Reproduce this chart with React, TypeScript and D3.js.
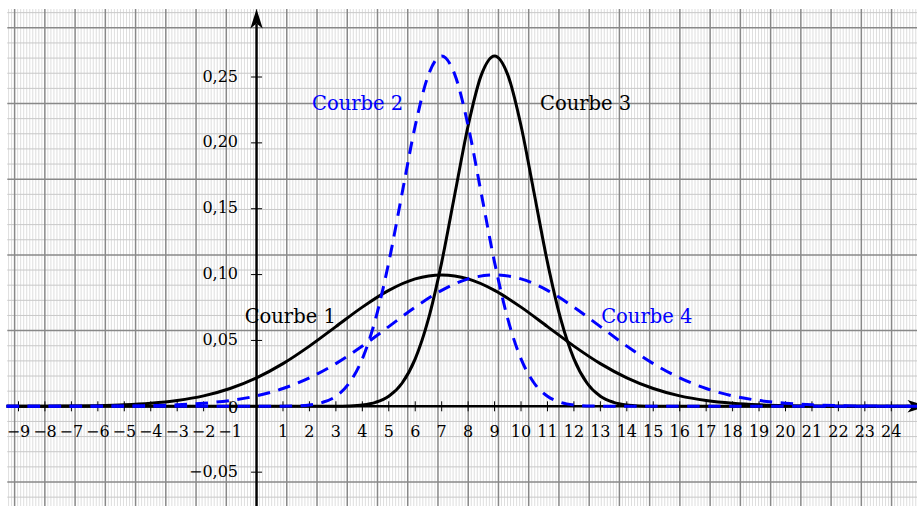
import React from "react";
import * as d3 from "d3";

// Sample points of the four density curves
const wideX = [-9.45, -9, -8, -7, -6, -5, -4, -3, -2, -1, 0, 1, 2, 3, 4, 5, 6, 7, 8, 9, 10, 11, 12, 13, 14, 15, 16, 17, 18, 19, 20, 21, 22, 23, 24, 25];
const courbe1Y = [0, 0, 0.0001, 0.0002, 0.0005, 0.0011, 0.0023, 0.0044, 0.0079, 0.0135, 0.0216, 0.0324, 0.0457, 0.0605, 0.0753, 0.088, 0.0967, 0.0997, 0.0967, 0.088, 0.0753, 0.0605, 0.0457, 0.0324, 0.0216, 0.0135, 0.0079, 0.0044, 0.0023, 0.0011, 0.0005, 0.0002, 0.0001, 0, 0, 0];
const courbe4Y = [0, 0, 0, 0, 0.0001, 0.0002, 0.0005, 0.0011, 0.0023, 0.0044, 0.0079, 0.0135, 0.0216, 0.0324, 0.0457, 0.0605, 0.0753, 0.088, 0.0967, 0.0997, 0.0967, 0.088, 0.0753, 0.0605, 0.0457, 0.0324, 0.0216, 0.0135, 0.0079, 0.0044, 0.0023, 0.0011, 0.0005, 0.0002, 0.0001, 0];

const courbe2X = [-9.45, 1, 1.5, 2, 2.5, 3, 3.5, 4, 4.5, 5, 5.5, 6, 6.5, 7, 7.5, 8, 8.5, 9, 9.5, 10, 10.5, 11, 11.5, 12, 12.5, 13, 25];
const courbe3X = [-9.45, 3, 3.5, 4, 4.5, 5, 5.5, 6, 6.5, 7, 7.5, 8, 8.5, 9, 9.5, 10, 10.5, 11, 11.5, 12, 12.5, 13, 13.5, 14, 14.5, 15, 25];
const narrowY = [0, 0.0001, 0.0003, 0.001, 0.003, 0.0076, 0.0175, 0.036, 0.0663, 0.1093, 0.1613, 0.213, 0.2516, 0.266, 0.2516, 0.213, 0.1613, 0.1093, 0.0663, 0.036, 0.0175, 0.0076, 0.003, 0.001, 0.0003, 0.0001, 0];

const xTicks = [-9, -8, -7, -6, -5, -4, -3, -2, -1, 1, 2, 3, 4, 5, 6, 7, 8, 9, 10, 11, 12, 13, 14, 15, 16, 17, 18, 19, 20, 21, 22, 23, 24];
const yTicks = [-0.05, 0.05, 0.1, 0.15, 0.2, 0.25];

const curveLabels = [
  { text: "Courbe 1", x: -0.45, y: 0.0635, color: "#000" },
  { text: "Courbe 2", x: 2.1, y: 0.2247, color: "#0000ff" },
  { text: "Courbe 3", x: 10.72, y: 0.2247, color: "#000" },
  { text: "Courbe 4", x: 13.03, y: 0.0635, color: "#0000ff" },
];

const W = 917;
const H = 506;
const FONT = "'DejaVu Serif', serif";

export default function App() {
  const x = d3.scaleLinear().domain([-9, 24]).range([18.5, 891.3]);
  const y = d3.scaleLinear().domain([0, 0.25]).range([406.3, 77.0]);
  const x0 = x(0);
  const y0 = y(0);

  // graph paper
  const gridLeft = 7.3;
  const gridTop = 9;
  const fineX = 3.024;
  const fineY = 15.14;
  const vLines: { p: number; major: boolean }[] = [];
  for (let k = Math.ceil((gridLeft - x0) / fineX); x0 + k * fineX <= W; k++) {
    vLines.push({ p: x0 + k * fineX, major: k % 10 === 0 });
  }
  const hLines: { p: number; major: boolean }[] = [];
  for (let k = Math.ceil((gridTop - y0) / fineY); y0 + k * fineY <= H; k++) {
    hLines.push({ p: y0 + k * fineY, major: k % 5 === 0 });
  }

  const line = d3
    .line<[number, number]>()
    .x((d) => x(d[0]))
    .y((d) => y(d[1]))
    .curve(d3.curveMonotoneX);

  const zip = (xs: number[], ys: number[]) => xs.map((v, i) => [v, ys[i]] as [number, number]);

  const fmtY = (v: number) => d3.format(".2f")(v).replace(".", ",").replace("-", "\u2212");
  const fmtX = (v: number) => (v < 0 ? "\u2212" + Math.abs(v) : String(v));

  return (
    <svg
      width={W}
      height={H}
      style={{ position: "absolute", left: 0, top: 0, background: "#fff", display: "block" }}
    >
      <g>
        {vLines.filter((l) => !l.major).map((l, i) => (
          <line key={"vf" + i} x1={l.p} x2={l.p} y1={gridTop} y2={H} stroke="#dadada" strokeWidth={0.9} />
        ))}
        {hLines.filter((l) => !l.major).map((l, i) => (
          <line key={"hf" + i} x1={gridLeft} x2={W} y1={l.p} y2={l.p} stroke="#c8c8c8" strokeWidth={1} />
        ))}
        {vLines.filter((l) => l.major).map((l, i) => (
          <line key={"vm" + i} x1={l.p} x2={l.p} y1={gridTop} y2={H} stroke="#888" strokeWidth={1.5} />
        ))}
        {hLines.filter((l) => l.major).map((l, i) => (
          <line key={"hm" + i} x1={gridLeft} x2={W} y1={l.p} y2={l.p} stroke="#888" strokeWidth={1.5} />
        ))}
      </g>

      {/* tick labels */}
      <g fontFamily={FONT} fontSize={16} fill="#000">
        {xTicks.map((t) => (
          <text key={"xl" + t} x={x(t)} y={437} textAnchor="middle">
            {fmtX(t)}
          </text>
        ))}
        {yTicks.map((t) => (
          <text key={"yl" + t} x={238} y={y(t) + 4.5} textAnchor="end">
            {fmtY(t)}
          </text>
        ))}
        <text x={233} y={413} textAnchor="middle">0</text>
      </g>

      {/* axes */}
      <g stroke="#000">
        {xTicks.map((t) => (
          <line key={"xt" + t} x1={x(t)} x2={x(t)} y1={y0 - 5} y2={y0 + 5} strokeWidth={1} />
        ))}
        {yTicks.map((t) => (
          <line key={"yt" + t} x1={x0 - 5.5} x2={x0 + 5.5} y1={y(t)} y2={y(t)} strokeWidth={1} />
        ))}
        <line x1={gridLeft} x2={912} y1={y0} y2={y0} strokeWidth={2.4} />
        <line x1={x0} x2={x0} y1={H} y2={24} strokeWidth={2.4} />
      </g>
      <path d={`M${x0},9 L${x0 - 6.2},28.5 L${x0},23.5 L${x0 + 6.2},28.5 Z`} fill="#000" />
      <path d={`M927,${y0} L907.5,${y0 - 6.2} L912.5,${y0} L907.5,${y0 + 6.2} Z`} fill="#000" />

      {/* curves */}
      <g fill="none" strokeLinejoin="round">
        <path d={line(zip(wideX, courbe1Y)) ?? ""} stroke="#000" strokeWidth={3} />
        <path d={line(zip(courbe3X, narrowY)) ?? ""} stroke="#000" strokeWidth={3} />
        <path d={line(zip(courbe2X, narrowY)) ?? ""} stroke="#0000ff" strokeWidth={3} strokeDasharray="12.5 8.5" />
        <path d={line(zip(wideX, courbe4Y)) ?? ""} stroke="#0000ff" strokeWidth={3} strokeDasharray="12.5 8.5" />
      </g>

      {/* curve names */}
      <g fontFamily={FONT} fontSize={19.5}>
        {curveLabels.map((l) => (
          <text key={l.text} x={x(l.x)} y={y(l.y)} fill={l.color}>
            {l.text}
          </text>
        ))}
      </g>
    </svg>
  );
}
